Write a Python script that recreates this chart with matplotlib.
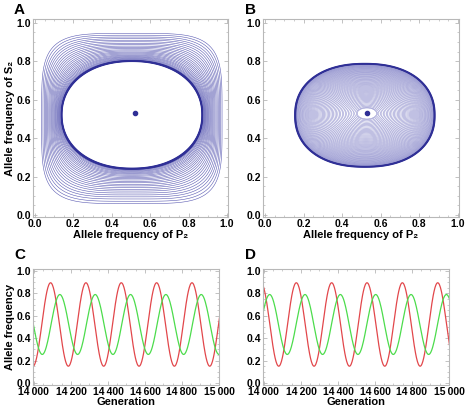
import numpy as np
import matplotlib
matplotlib.use("Agg")
import matplotlib.pyplot as plt
from matplotlib.ticker import MultipleLocator, FuncFormatter

plt.rcParams['font.family'] = ['Liberation Sans', 'DejaVu Sans']
plt.rcParams['font.weight'] = 'bold'

# ---- panel A: loops from the thick cycle out to the square-ish outer loop
A_INNER = [0.14, 0.87, 0.243, 0.80]     # left, right, bottom, top
A_OUTER = [0.035, 0.974, 0.06, 0.945]
A_SHAPE = [2.15, 4.5]                   # superellipse exponent inner -> outer
a_ring = [0.0, 0.004, 0.008, 0.012, 0.017, 0.022, 0.028]
a_levels = [0.035, 0.05, 0.07, 0.09, 0.115, 0.14, 0.165, 0.195, 0.225, 0.26,
            0.295, 0.33, 0.37, 0.41, 0.455, 0.50, 0.545, 0.595, 0.645, 0.70,
            0.755, 0.81, 0.87, 0.935, 1.0]
A_DOT = (0.52, 0.53)

# ---- panel B: loops from the thick cycle in to the small hole
B_OUTER = [0.155, 0.88, 0.25, 0.788]
B_INNER = [0.478, 0.578, 0.50, 0.557]
B_SHAPE = [2.25, 2.0]
b_ring = [0.0, 0.004, 0.008, 0.012, 0.017]
b_levels = [0.024, 0.032, 0.041, 0.05, 0.06, 0.07, 0.081, 0.092, 0.104, 0.116,
            0.128, 0.141, 0.154, 0.167, 0.18, 0.194, 0.208, 0.222, 0.237, 0.252,
            0.267, 0.283, 0.299, 0.315, 0.332, 0.349, 0.366, 0.384, 0.402, 0.42,
            0.439, 0.458, 0.477, 0.497, 0.517, 0.537, 0.558, 0.579, 0.60, 0.622,
            0.644, 0.666, 0.689, 0.712, 0.735, 0.759, 0.783, 0.807, 0.832, 0.857,
            0.882, 0.908, 0.934, 0.96, 0.985, 1.0]
B_DOT = (0.527, 0.533)

# ---- panels C, D: extrema (generation, allele frequency) of each series
c_red_gen = [13995, 14090, 14186, 14281, 14377, 14472, 14568, 14663, 14759, 14854, 14950, 15045]
c_red_val = [0.15, 0.895, 0.15, 0.895, 0.15, 0.895, 0.15, 0.895, 0.15, 0.895, 0.15, 0.895]
c_green_gen = [13949, 14045, 14140, 14236, 14331, 14427, 14522, 14618, 14713, 14809, 14904, 15000]
c_green_val = [0.79, 0.255, 0.79, 0.255, 0.79, 0.255, 0.79, 0.255, 0.79, 0.255, 0.79, 0.255]

d_red_gen = [13984, 14080, 14175, 14271, 14366, 14462, 14557, 14653, 14748, 14844, 14939, 15035]
d_red_val = [0.895, 0.15, 0.895, 0.15, 0.895, 0.15, 0.895, 0.15, 0.895, 0.15, 0.895, 0.15]
d_green_gen = [13935, 14031, 14126, 14222, 14317, 14413, 14508, 14604, 14699, 14795, 14890, 14986, 15081]
d_green_val = [0.255, 0.79, 0.255, 0.79, 0.255, 0.79, 0.255, 0.79, 0.255, 0.79, 0.255, 0.79, 0.255]

RING_COLOR = '#2f2f96'
LINE_A = '#5a5ab2'
LINE_B = '#8080c6'
RED = '#e2474b'
GREEN = '#4cdc4c'
FRAME = '#b8b8b8'


def loop(box_a, box_b, shape, s, n=600):
    l, r, b, t = [box_a[i] + (box_b[i] - box_a[i]) * s for i in range(4)]
    p = shape[0] + (shape[1] - shape[0]) * s
    th = np.linspace(0, 2 * np.pi, n, endpoint=False) + 0.3
    c, si = np.cos(th), np.sin(th)
    x = (l + r) / 2 + (r - l) / 2 * np.sign(c) * np.abs(c) ** (2 / p)
    y = (b + t) / 2 + (t - b) / 2 * np.sign(si) * np.abs(si) ** (2 / p)
    return x, y


def draw_loop(ax, xy, color, lw):
    # closed outline, no overlapping start/end point
    ax.fill(xy[0], xy[1], facecolor='none', edgecolor=color, lw=lw)


def smooth(gens, vals, n=40):
    xs, ys = [], []
    for i in range(len(gens) - 1):
        g = np.linspace(gens[i], gens[i + 1], n)
        f = (1 - np.cos(np.pi * (g - gens[i]) / (gens[i + 1] - gens[i]))) / 2
        xs.append(g)
        ys.append(vals[i] + (vals[i + 1] - vals[i]) * f)
    return np.concatenate(xs), np.concatenate(ys)


def style(ax, xmaj, xmin, ymaj, ymin):
    for sp in ax.spines.values():
        sp.set_color(FRAME)
        sp.set_linewidth(0.8)
    ax.xaxis.set_major_locator(MultipleLocator(xmaj))
    ax.xaxis.set_minor_locator(MultipleLocator(xmin))
    ax.yaxis.set_major_locator(MultipleLocator(ymaj))
    ax.yaxis.set_minor_locator(MultipleLocator(ymin))
    ax.tick_params(which='both', direction='in', top=True, right=True,
                   color=FRAME, labelsize=7.5, pad=1.5)
    ax.tick_params(which='major', length=3, width=0.6)
    ax.tick_params(which='minor', length=1.6, width=0.5)
    ax.yaxis.set_major_formatter(FuncFormatter(lambda v, _: f"{v:.1f}"))


W, H = 469, 411
fig = plt.figure(figsize=(W / 100, H / 100), dpi=100)

axA = fig.add_axes([33 / W, 1 - 217 / H, 195 / W, 198 / H])
axB = fig.add_axes([263 / W, 1 - 217 / H, 196 / W, 198 / H])
axC = fig.add_axes([33 / W, 1 - 385 / H, 186 / W, 116 / H])
axD = fig.add_axes([263 / W, 1 - 385 / H, 186 / W, 116 / H])

# A
for s in a_levels:
    draw_loop(axA, loop(A_INNER, A_OUTER, A_SHAPE, s), LINE_A, 0.4)
for s in a_ring:
    draw_loop(axA, loop(A_INNER, A_OUTER, A_SHAPE, s), RING_COLOR, 0.55)
draw_loop(axA, loop(A_INNER, A_OUTER, A_SHAPE, 0.0), RING_COLOR, 1.1)
axA.plot(*A_DOT, 'o', ms=3, color=RING_COLOR)

# B
for s in b_levels:
    draw_loop(axB, loop(B_OUTER, B_INNER, B_SHAPE, s), LINE_B, 0.35)
for s in b_ring:
    draw_loop(axB, loop(B_OUTER, B_INNER, B_SHAPE, s), RING_COLOR, 0.55)
draw_loop(axB, loop(B_OUTER, B_INNER, B_SHAPE, 0.0), RING_COLOR, 1.1)
axB.plot(*B_DOT, 'o', ms=3, color=RING_COLOR)

for ax in (axA, axB):
    ax.set_xlim(-0.01, 1.005)
    ax.set_ylim(-0.01, 1.02)
    style(ax, 0.2, 0.05, 0.2, 0.05)
    ax.xaxis.set_major_formatter(FuncFormatter(lambda v, _: f"{v:.1f}"))
    ax.set_xlabel('Allele frequency of P\u2082', fontsize=8, fontweight='bold', labelpad=1)
axA.set_ylabel('Allele frequency of S\u2082', fontsize=8, fontweight='bold', labelpad=1)

# C, D
for ax, rg, rv, gg, gv in ((axC, c_red_gen, c_red_val, c_green_gen, c_green_val),
                           (axD, d_red_gen, d_red_val, d_green_gen, d_green_val)):
    ax.plot(*smooth(rg, rv), color=RED, lw=0.9)
    ax.plot(*smooth(gg, gv), color=GREEN, lw=0.9)
    ax.set_xlim(13995, 15000)
    ax.set_ylim(-0.018, 1.018)
    style(ax, 200, 50, 0.2, 0.05)
    ax.xaxis.set_major_formatter(FuncFormatter(
        lambda v, _: f"{int(round(v)) // 1000}\u2009{int(round(v)) % 1000:03d}"))
    ax.set_xlabel('Generation', fontsize=8, fontweight='bold', labelpad=0)
axC.set_ylabel('Allele frequency', fontsize=8, fontweight='bold', labelpad=1)

for lab, px, py in (('A', 14, 10), ('B', 245, 10), ('C', 14, 255), ('D', 245, 255)):
    fig.text(px / W, 1 - py / H, lab, fontsize=11, fontweight='bold', va='center', ha='left')

fig.savefig('out.png', dpi=100)
